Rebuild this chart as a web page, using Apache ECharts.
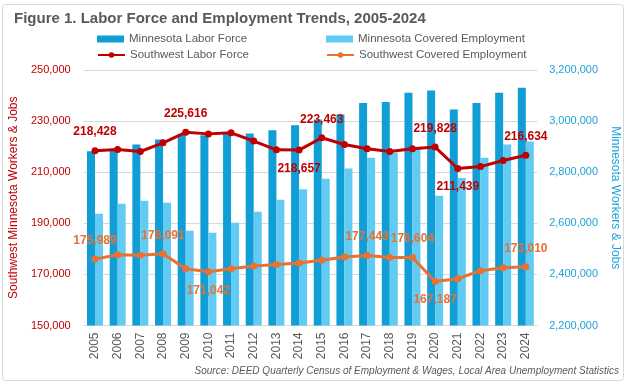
<!DOCTYPE html>
<html><head><meta charset="utf-8">
<script src="https://cdn.jsdelivr.net/npm/echarts@6/dist/echarts.min.js"></script>
<style>html,body{margin:0;padding:0;background:#fff}#c{width:629px;height:387px}</style>
</head><body><div id="c"></div>
<script>
const years = ['2005','2006','2007','2008','2009','2010','2011','2012','2013','2014','2015','2016','2017','2018','2019','2020','2021','2022','2023','2024'];
const mnLaborForce = [2881600,2891000,2908000,2927500,2949800,2944400,2951000,2951000,2964000,2983600,3006000,3025500,3071000,3075000,3110600,3119600,3045000,3071000,3110600,3131000];
const mnCoveredEmp = [2637000,2676500,2688000,2680500,2570500,2563000,2602000,2645000,2692000,2733000,2774500,2814000,2857000,2876500,2895000,2708000,2777000,2857000,2908000,2920000];
const swLaborForce = [218428,218900,218100,221500,225616,225000,225400,222200,218750,218657,223463,220850,219150,218100,219150,219828,211439,212200,214600,216634];
const swCoveredEmp = [175989,177700,177450,178091,172200,171042,172200,173250,173900,174450,175500,176800,177443,176650,176604,167187,168300,171450,172600,173010];
const leftTicks = {min:150000, max:250000, interval:20000};
const rightTicks = {min:2200000, max:3200000, interval:200000};
// labelled points
const swLfAbove = [0,4,10,15,19], swLfBelow = [9,16];
const swCeAbove = [0,3,12,14,19], swCeBelow = [5,15];

const fmt = v => Number(v).toLocaleString('en-US');
const FF = 'Liberation Sans, Arial, sans-serif';
function withLabels(vals, above, below, color){
  return vals.map((v,i)=>{
    const o = {value:v};
    if (above.includes(i) || below.includes(i)) {
      o.label = {show:true, position: above.includes(i)?'top':'bottom', distance:9,
        color:color, fontWeight:'bold', fontSize:12, fontFamily:FF,
        formatter: p => fmt(p.value)};
    }
    return o;
  });
}
const chart = echarts.init(document.getElementById('c'), null, {renderer:'canvas'});
const legText = {color:'#595959', fontSize:11.5, fontFamily:FF};
const legBase = {padding:0, itemWidth:27, itemHeight:7, itemGap:3, textStyle:legText};
chart.setOption({
  animation:false,
  backgroundColor:'#fff',
  graphic:[{type:'rect', shape:{x:2.5,y:4.5,width:621,height:376,r:3}, style:{fill:'none', stroke:'#D9D9D9', lineWidth:1}, silent:true, z:-1},
    {type:'text', right:10, top:366, style:{text:'Source: DEED Quarterly Census of Employment & Wages, Local Area Unemployment Statistics', fill:'#595959', font:'italic 10px Liberation Sans, Arial, sans-serif'}}],
  title:{text:'Figure 1. Labor Force and Employment Trends, 2005-2024', left:9, top:6,
    textStyle:{fontSize:15, fontWeight:'bold', color:'#595959', fontFamily:FF}},
  legend:[
    Object.assign({data:[{name:'Minnesota Labor Force', icon:'rect'}], left:97, top:33}, legBase),
    Object.assign({data:[{name:'Minnesota Covered Employment', icon:'rect'}], left:326, top:33}, legBase),
    Object.assign({data:['Southwest Labor Force'], left:97, top:49}, legBase),
    Object.assign({data:['Southwest Covered Employment'], left:326, top:49}, legBase)
  ],
  grid:{left:78.5, right:90, top:70, bottom:61.5},
  xAxis:{type:'category', data:years, boundaryGap:true,
    axisLine:{lineStyle:{color:'#D9D9D9'}}, axisTick:{show:false},
    axisLabel:{rotate:90, color:'#595959', fontSize:12, fontFamily:FF, margin:7, interval:0}},
  yAxis:[
    {type:'value', position:'left', ...leftTicks,
      name:'Southwest Minnesota Workers & Jobs', nameLocation:'middle', nameRotate:90, nameGap:54,
      nameTextStyle:{color:'#C00000', fontSize:12, fontFamily:FF},
      axisLabel:{color:'#C00000', fontSize:11, fontFamily:FF, margin:13, formatter:v=>fmt(v)},
      splitLine:{lineStyle:{color:'#D9D9D9'}}, axisLine:{show:false}, axisTick:{show:false}},
    {type:'value', position:'right', ...rightTicks,
      name:'Minnesota Workers & Jobs', nameLocation:'middle', nameRotate:-90, nameGap:63,
      nameTextStyle:{color:'#1EA3DC', fontSize:12, fontFamily:FF},
      axisLabel:{color:'#1EA3DC', fontSize:11, fontFamily:FF, margin:12, formatter:v=>fmt(v)},
      splitLine:{show:false}, axisLine:{show:false}, axisTick:{show:false}}
  ],
  series:[
    {name:'Minnesota Labor Force', type:'bar', yAxisIndex:1, data:mnLaborForce, barWidth:8, barGap:'0%',
      itemStyle:{color:'#119ED6'}, z:1},
    {name:'Minnesota Covered Employment', type:'bar', yAxisIndex:1, data:mnCoveredEmp, barWidth:8, barGap:'0%',
      itemStyle:{color:'#61CBF3'}, z:1},
    {name:'Southwest Labor Force', type:'line', yAxisIndex:0, data:withLabels(swLaborForce, swLfAbove, swLfBelow, '#C00000'),
      symbol:'circle', symbolSize:7, lineStyle:{color:'#C00000', width:3}, itemStyle:{color:'#C00000'}, z:3},
    {name:'Southwest Covered Employment', type:'line', yAxisIndex:0, data:withLabels(swCoveredEmp, swCeAbove, swCeBelow, '#E97132'),
      symbol:'circle', symbolSize:7, lineStyle:{color:'#E97132', width:3}, itemStyle:{color:'#E97132'}, z:3}
  ]
});
</script></body></html>
